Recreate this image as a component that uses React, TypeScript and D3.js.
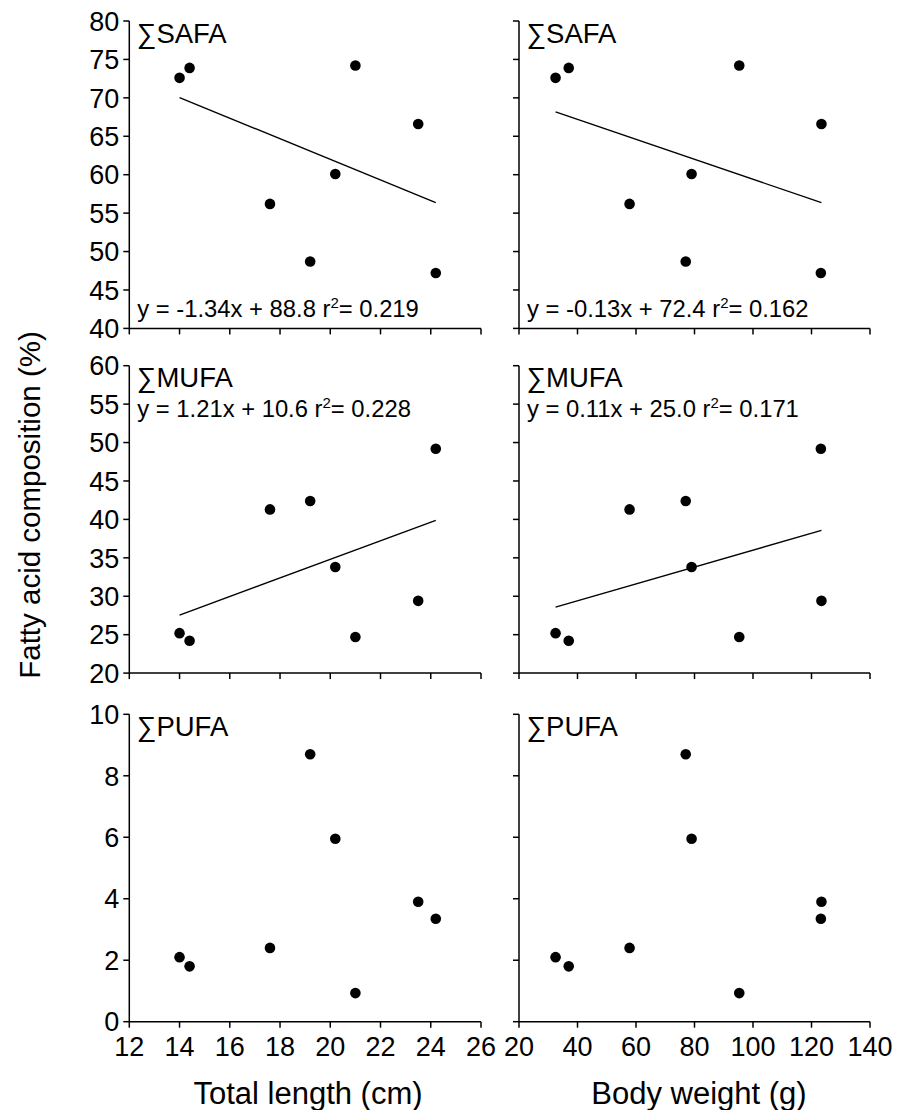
import React from 'react';
import * as d3 from 'd3';

// Individual fish (same order in every array)
const lengthCm = [14.0, 14.4, 17.6, 19.2, 20.2, 21.0, 23.5, 24.2];
const weightG = [32.5, 37.0, 57.8, 77.0, 79.0, 95.3, 123.4, 123.2];
const safa = [72.6, 73.9, 56.2, 48.7, 60.1, 74.2, 66.6, 47.2];
const mufa = [25.2, 24.2, 41.3, 42.4, 33.8, 24.7, 29.4, 49.2];
const pufa = [2.1, 1.8, 2.4, 8.7, 5.95, 0.93, 3.9, 3.35];

const groupNames = ['SAFA', 'MUFA', 'PUFA'];
const yDomains: [number, number][] = [[40, 80], [20, 60], [0, 10]];
const yTicks = [
  [40, 45, 50, 55, 60, 65, 70, 75, 80],
  [20, 25, 30, 35, 40, 45, 50, 55, 60],
  [0, 2, 4, 6, 8, 10],
];
const lengthTicks = [12, 14, 16, 18, 20, 22, 24, 26];
const weightTicks = [20, 40, 60, 80, 100, 120, 140];

// Regression results printed on the panels (null = none)
const slopeLength = [-1.34, 1.21, null];
const interceptLength = [88.8, 10.6, null];
const r2Length = ['0.219', '0.228', null];
const slopeWeight = [-0.13, 0.11, null];
const interceptWeight = [72.4, 25.0, null];
const r2Weight = ['0.162', '0.171', null];

const xLabelLength = 'Total length (cm)';
const xLabelWeight = 'Body weight (g)';
const yLabel = 'Fatty acid composition (%)';

const FONT = '"Liberation Sans", Arial, Helvetica, sans-serif';

const rowTops = [21, 365.7, 714.3];
const rowH = 307.4;
const colRanges: [number, number][] = [[129.3, 481], [519, 870]];

const seriesByRow = [safa, mufa, pufa];

function fmtSlope(v: number) {
  return v.toFixed(2);
}

function Panel({ row, col }: { row: number; col: number }) {
  const xs = col === 0 ? lengthCm : weightG;
  const xTicks = col === 0 ? lengthTicks : weightTicks;
  const xDom: [number, number] = [xTicks[0], xTicks[xTicks.length - 1]];
  const x = d3.scaleLinear().domain(xDom).range(colRanges[col]);
  const top = rowTops[row];
  const y = d3.scaleLinear().domain(yDomains[row]).range([top + rowH, top]);
  const ys = seriesByRow[row];
  const slope = col === 0 ? slopeLength[row] : slopeWeight[row];
  const intercept = col === 0 ? interceptLength[row] : interceptWeight[row];
  const r2 = col === 0 ? r2Length[row] : r2Weight[row];
  const x0 = colRanges[col][0];
  const x1 = colRanges[col][1];
  const yb = top + rowH;
  const showYLabels = col === 0;
  const showXLabels = row === 2;

  let regLine: string | null = null;
  if (slope !== null && intercept !== null) {
    const xmin = d3.min(xs)!;
    const xmax = d3.max(xs)!;
    const line = d3
      .line<number>()
      .x((d) => x(d))
      .y((d) => y(slope * d + intercept));
    regLine = line([xmin, xmax]);
  }

  const eqY = row === 0 ? yb - 11 : top + 51.6;

  return (
    <g>
      {/* y axis */}
      <line x1={x0} x2={x0} y1={top} y2={yb} stroke="#000" strokeWidth={1.5} />
      {yTicks[row].map((t) => (
        <g key={'y' + t}>
          <line x1={x0 - 6} x2={x0} y1={y(t)} y2={y(t)} stroke="#000" strokeWidth={1.5} />
          {showYLabels && (
            <text
              x={x0 - 10}
              y={y(t)}
              dy="0.36em"
              textAnchor="end"
              fontSize={27}
              fontFamily={FONT}
            >
              {t}
            </text>
          )}
        </g>
      ))}
      {/* x axis */}
      <line x1={x0} x2={x1} y1={yb} y2={yb} stroke="#000" strokeWidth={1.5} />
      {xTicks.map((t) => (
        <g key={'x' + t}>
          <line x1={x(t)} x2={x(t)} y1={yb} y2={yb + 6} stroke="#000" strokeWidth={1.5} />
          {showXLabels && (
            <text x={x(t)} y={yb + 34} textAnchor="middle" fontSize={27} fontFamily={FONT}>
              {t}
            </text>
          )}
        </g>
      ))}
      {/* panel label */}
      <text x={x0 + 7.5} y={top + 21.5} fontSize={27.5} fontFamily={FONT}>
        {'\u2211' + groupNames[row]}
      </text>
      {/* regression */}
      {regLine && <path d={regLine} fill="none" stroke="#000" strokeWidth={1.4} />}
      {slope !== null && intercept !== null && (
        <text x={x0 + 8} y={eqY} fontSize={23.8} fontFamily={FONT}>
          {`y = ${fmtSlope(slope)}x + ${intercept.toFixed(1)} r`}
          <tspan dy={-9} fontSize={15}>
            2
          </tspan>
          <tspan dy={9}>{`= ${r2}`}</tspan>
        </text>
      )}
      {/* points */}
      {xs.map((v, i) => (
        <circle key={i} cx={x(v)} cy={y(ys[i])} r={5.3} fill="#000" />
      ))}
    </g>
  );
}

export default function App() {
  const rows = [0, 1, 2];
  const cols = [0, 1];
  return (
    <svg
      width={900}
      height={1110}
      style={{ position: 'absolute', left: 0, top: 0, background: '#fff' }}
    >
      <rect x={0} y={0} width={900} height={1110} fill="#fff" />
      {rows.map((r) => cols.map((c) => <Panel key={r + '-' + c} row={r} col={c} />))}
      <text
        transform="translate(40,505) rotate(-90)"
        textAnchor="middle"
        fontSize={29.5}
        fontFamily={FONT}
      >
        {yLabel}
      </text>
      <text x={308} y={1104} textAnchor="middle" fontSize={31} fontFamily={FONT}>
        {xLabelLength}
      </text>
      <text x={699} y={1104} textAnchor="middle" fontSize={31} fontFamily={FONT}>
        {xLabelWeight}
      </text>
    </svg>
  );
}
